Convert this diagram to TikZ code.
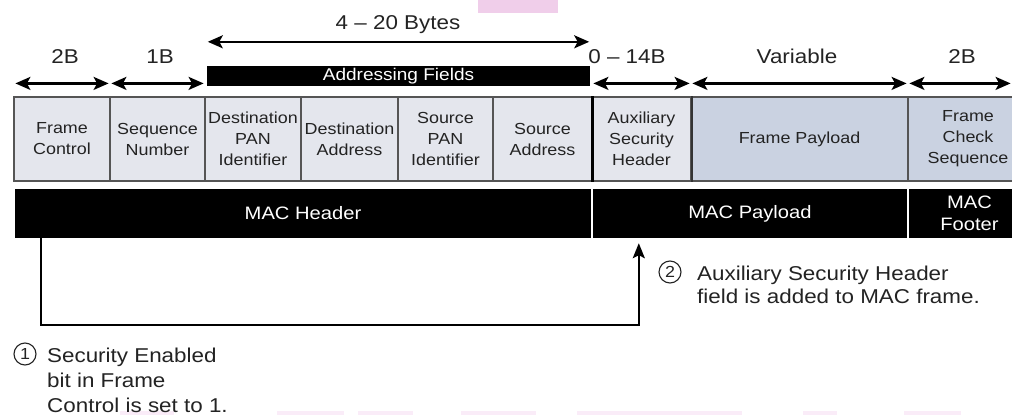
\documentclass[tikz,border=0pt]{standalone}
\usepackage{fontspec}
\setmainfont{Liberation Sans}[FakeStretch=1.12]
\usetikzlibrary{arrows.meta}

\definecolor{cellgray}{RGB}{228,230,237}
\definecolor{cellblue}{RGB}{202,210,225}
\definecolor{rulegray}{RGB}{85,85,85}
\definecolor{ink}{RGB}{35,35,35}
\definecolor{smudge}{RGB}{240,206,234}
\definecolor{smudgelight}{RGB}{250,236,248}

\tikzset{
  field/.style={draw=rulegray, line width=1.2pt, fill=cellgray, minimum height=84pt,
    inner sep=0pt, align=center, text=ink, font=\fontsize{16}{21}\selectfont},
  macbar/.style={fill=black, text=white, minimum height=49pt, inner sep=0pt,
    align=center, font=\fontsize{18}{22}\selectfont},
  span/.style={{Stealth[length=15pt,width=13pt,inset=3.5pt]}-{Stealth[length=15pt,width=13pt,inset=3.5pt]},
    line width=2.2pt, shorten <=2pt, shorten >=2pt},
  lbl/.style={font=\fontsize{20}{24}\selectfont, inner sep=0pt, anchor=base, text=ink},
  note/.style={align=left, inner sep=0pt, anchor=base west, text=ink},
  badge/.style={circle, draw=ink, line width=1.1pt, minimum size=22pt, inner sep=0pt,
    text=ink, font=\fontsize{16}{16}\selectfont},
  conn/.style={line width=2.2pt, -{Stealth[length=15pt,width=12pt,inset=3pt]}}
}

\begin{document}
\begin{tikzpicture}[x=1pt,y=-1pt]
\useasboundingbox (0,0) rectangle (1012,415);
\clip (0,0) rectangle (1012,415);

% faint pink smudges
\fill[smudge] (478,0) rectangle (558,13);
\foreach \a/\b in {120/174,277/344,358/413,461/536,577/742,803/837,904/961}
  \fill[smudgelight] (\a,411) rectangle (\b,415);

% frame fields
\node[field, minimum width=96pt] (fc)   at (62,139)    {Frame\\Control};
\node[field, minimum width=95pt] (sn)   at (157.5,139) {Sequence\\Number};
\node[field, minimum width=96pt] (dpan) at (253,139)   {Destination\\PAN\\Identifier};
\node[field, minimum width=97pt] (da)   at (349.5,139) {Destination\\Address};
\node[field, minimum width=95pt] (span) at (445.5,139) {Source\\PAN\\Identifier};
\node[field, minimum width=99pt] (sa)   at (542.5,139) {Source\\Address};
\node[field, minimum width=99pt] (ash)  at (641.5,139) {Auxiliary\\Security\\Header};
\node[field, fill=cellblue, minimum width=217pt] (fp) at (799.5,139) {Frame Payload};
\node[field, fill=cellblue, minimum width=120pt] (fcs) at (968,139) {Frame\\Check\\Sequence};

% heavier dividers around the auxiliary header
\draw[black, line width=2.4pt] (sa.north east) -- (sa.south east);
\draw[black!80, line width=1.8pt] (ash.north east) -- (ash.south east);

% MAC layer bars
\node[macbar, minimum width=576pt] (mh) at (303,213.5)   {MAC Header};
\node[macbar, minimum width=314pt] (mp) at (750,213.5)   {MAC Payload};
\node[macbar, minimum width=121pt] (mf) at (969.5,213.5) {MAC\\Footer};

% addressing fields bar
\node[fill=black, text=white, minimum width=383pt, minimum height=20pt, inner sep=0pt,
      font=\fontsize{17}{17}\selectfont] (adr) at (398.5,76) {Addressing Fields};

% size dimensions
\draw[span, shorten <=1pt, shorten >=1pt] ([yshift=24pt]adr.north west) -- ([yshift=24pt]adr.north east);
\node[lbl] (l420) at (398,29) {4 – 20 Bytes};

\draw[span] ([yshift=13pt]fc.north west) -- ([yshift=13pt]fc.north east);
\draw[span] ([yshift=13pt]sn.north west) -- ([yshift=13pt]sn.north east);
\draw[span] ([yshift=13pt]ash.north west) -- ([yshift=13pt]ash.north east);
\draw[span] ([yshift=13pt]fp.north west) -- ([yshift=13pt]fp.north east);
\draw[span] ([yshift=13pt]fcs.north west) -- ([xshift=-16pt,yshift=13pt]fcs.north east);

\node[lbl] (l2a) at (65,63)  {2B};
\node[lbl] (l1)  at (160,63) {1B};
\node[lbl] (l14) at (627,63) {0 – 14B};
\node[lbl] (lv)  at (797,63) {Variable};
\node[lbl] (l2b) at (962,63) {2B};

% security flow
\coordinate (src)  at ([xshift=26pt]mh.south west);
\coordinate (dst)  at ([xshift=46pt,yshift=-5pt]mp.south west);
\coordinate (bend) at (0,325);
\draw[conn] (src) -- (src |- bend) -| (dst);

\node[badge] (b1) at (25,354) {1};
\node[note, font=\fontsize{20}{25}\selectfont] (n1) at (47,412)
  {Security Enabled\\bit in Frame\\Control is set to 1.};

\node[badge] (b2) at (670,272) {2};
\node[note, font=\fontsize{20}{23}\selectfont] (n2) at (697,303)
  {Auxiliary Security Header\\field is added to MAC frame.};
\end{tikzpicture}
\end{document}
